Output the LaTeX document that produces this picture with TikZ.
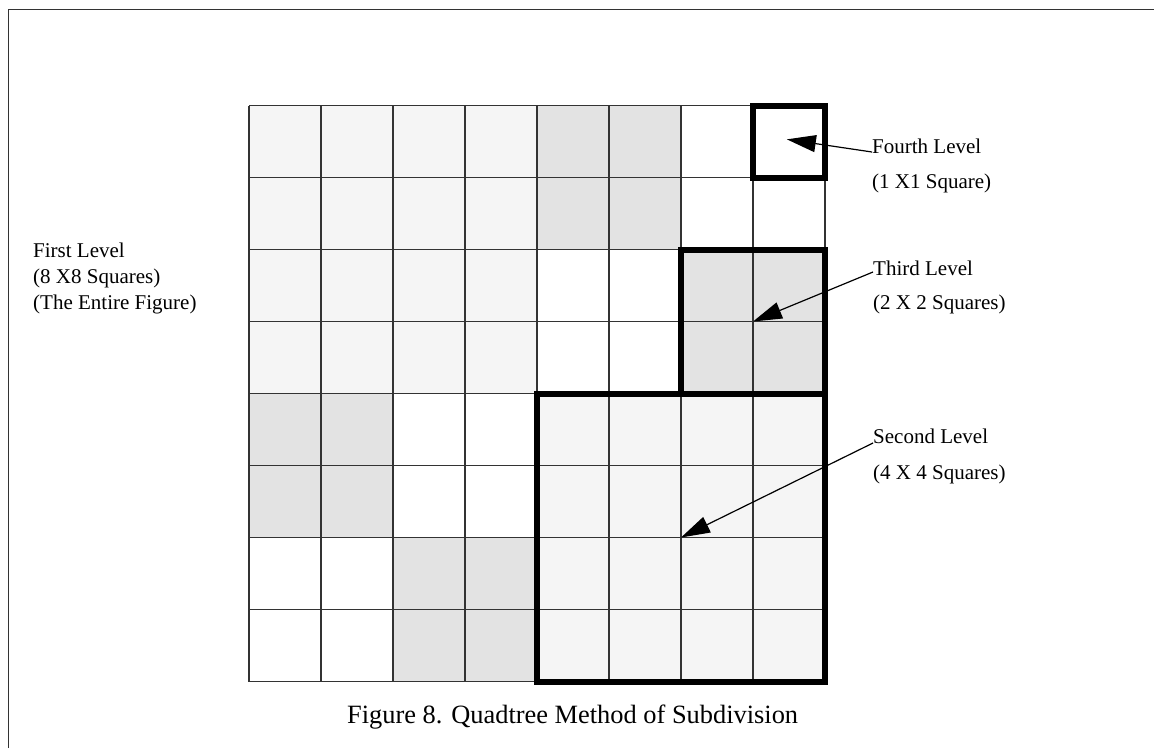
\documentclass[tikz,border=0pt]{standalone}
\usepackage{fontspec}
\setmainfont{Liberation Serif}
\usetikzlibrary{arrows.meta}
\definecolor{cellL}{HTML}{F5F5F5}
\definecolor{cellM}{HTML}{E3E3E3}
\definecolor{gridc}{HTML}{333333}
\tikzset{
  gridline/.style={draw=gridc, line width=1.3pt},
  quadbox/.style={draw=black, line width=6pt, line join=miter},
  frameline/.style={draw=black!80, line width=1.8pt},
  lbl/.style={inner sep=0pt, anchor=base west, font=\fontsize{21}{26}\selectfont},
  captionlbl/.style={inner sep=0pt, anchor=base west, font=\fontsize{26.4}{31}\selectfont},
  arr/.style={draw=black, line width=1.2pt, -{Triangle[length=29pt,width=17pt]}}
}
\begin{document}
\begin{tikzpicture}[x=1pt,y=-1pt]
\useasboundingbox (0,0) rectangle (1154,748);
% frame
\draw[frameline] (8.5,748) -- (8.5,9.5) -- (1154,9.5);
% grid
\begin{scope}[shift={(249pt,-105.5pt)}, x=72pt, y=-72pt]
  \fill[cellL] (0,0) rectangle (4,4);
  \fill[cellL] (4,4) rectangle (8,8);
  \fill[cellM] (4,0) rectangle (6,2);
  \fill[cellM] (6,2) rectangle (8,4);
  \fill[cellM] (0,4) rectangle (2,6);
  \fill[cellM] (2,6) rectangle (4,8);
  \foreach \i in {0,...,8} {
    \draw[gridline] (\i,0) -- (\i,8);
    \draw[gridline] (0,\i) -- (8,\i);
  }
  \draw[quadbox] (7,0) rectangle (8,1);
  \draw[quadbox] (6,2) rectangle (8,4);
  \draw[quadbox] (4,4) rectangle (8,8);
  \coordinate (t4) at (7.47,0.47);
  \coordinate (t3) at (7,3);
  \coordinate (t2) at (6,6);
\end{scope}
% left labels
\node[lbl] (first1) at (33,257.5) {First Level};
\node[lbl] (first2) at (33,283.5) {(8 X8 Squares)};
\node[lbl] (first3) at (33,309.5) {(The Entire Figure)};
% right labels
\node[lbl] (fourth1) at (872,153) {Fourth Level};
\node[lbl] (fourth2) at (872,188) {(1 X1 Square)};
\node[lbl] (third1) at (873,275) {Third Level};
\node[lbl] (third2) at (873,309) {(2 X 2 Squares)};
\node[lbl] (second1) at (873,443) {Second Level};
\node[lbl] (second2) at (873,479) {(4 X 4 Squares)};
% arrows
\draw[arr] ([yshift=1pt]fourth1.base west) -- (t4);
\draw[arr] ([yshift=3pt]third1.base west) -- (t3);
\draw[arr] (second1.base west) -- (t2);
% caption
\node[captionlbl] (cap) at (347,723) {Figure 8. Quadtree Method of Subdivision};
\end{tikzpicture}
\end{document}
